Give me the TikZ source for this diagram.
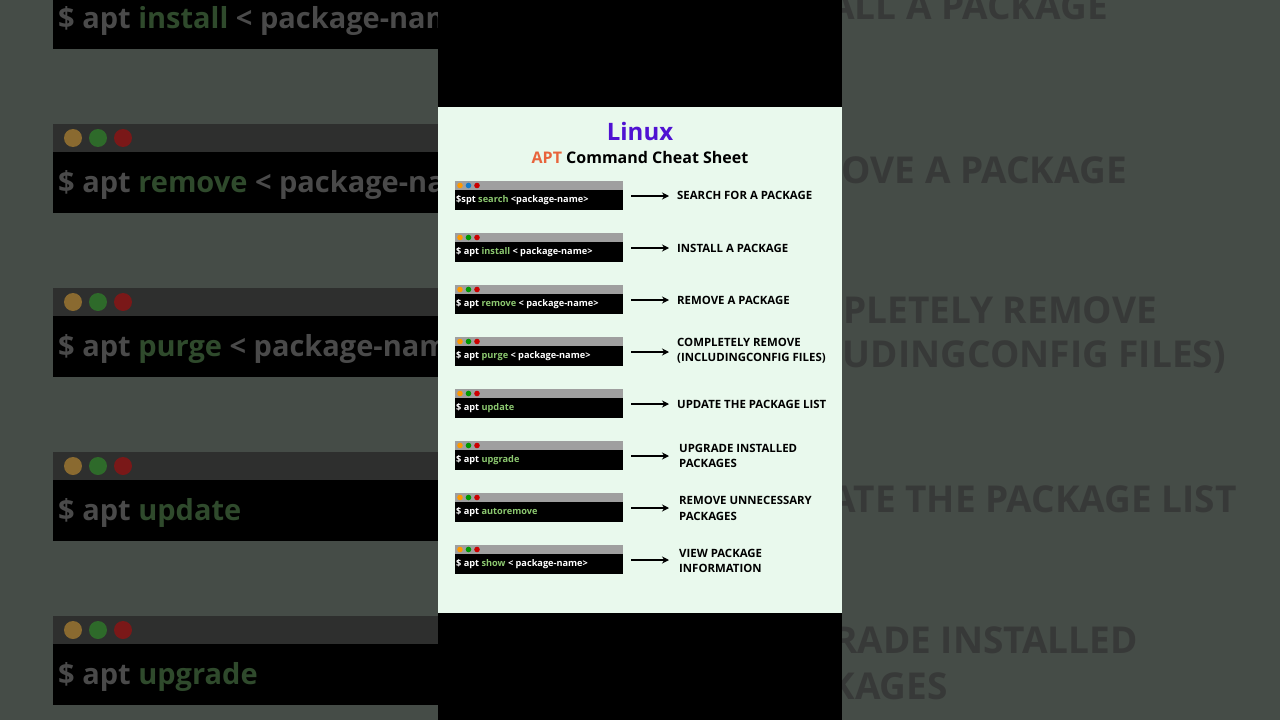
\documentclass[tikz,border=0pt]{standalone}
\usepackage{fontspec}
\setmainfont{Open Sans}
\usetikzlibrary{arrows.meta}
\definecolor{cardbg}{HTML}{E9F9ED}
\definecolor{sidebg}{HTML}{454C47}
\definecolor{cmdgreen}{HTML}{8CC870}
\definecolor{dimgreen}{HTML}{2F4A2C}
\definecolor{dimtxt}{HTML}{4A4A4A}
\definecolor{dimbar}{HTML}{2E2F2E}
\definecolor{purp}{HTML}{5012D2}
\definecolor{orng}{HTML}{E8643C}
\definecolor{dorange}{HTML}{8A6A30}
\definecolor{dgreen}{HTML}{2E6A2A}
\definecolor{dred}{HTML}{7A1818}
\tikzset{
  lbl/.style={anchor=west,align=left,font=\bfseries\fontsize{11.4}{15}\selectfont,inner sep=0pt},
  cmd/.style={anchor=west,font=\bfseries\fontsize{9.2}{10}\selectfont,text=white,inner sep=0pt},
  arr/.style={-{Stealth[length=7pt,width=7pt]},line width=2pt},
  bigcmd/.style={anchor=west,font=\bfseries\fontsize{29}{30}\selectfont,text=dimtxt,inner sep=0pt},
  biglbl/.style={anchor=east,font=\bfseries\fontsize{37}{38}\selectfont,text=black!80,inner sep=0pt,opacity=0.75}
}
\newcommand{\term}[3]{%
  \fill[gray!75] (455,#1) rectangle (623,#1+9);
  \fill[black] (455,#1+9) rectangle (623,#1+29);
  \fill[orange!80!yellow] (460,#1+4.5) circle (2.8);
  \fill[#2] (468.5,#1+4.5) circle (2.8);
  \fill[red!80!black] (477,#1+4.5) circle (2.8);
  \node[cmd] (c#1) at (456,#1+19.5) {#3};
}
\begin{document}
\begin{tikzpicture}[x=1pt,y=-1pt]
\useasboundingbox (0,0) rectangle (1280,720);
\fill[sidebg] (0,0) rectangle (1280,720);
% left blurred panel
\begin{scope}
\clip (0,0) rectangle (438,720);
\foreach \t/\w [count=\i from 0] in {install/ < package-name>,remove/ < package-name>,purge/ < package-name>,update/,upgrade/}{
  \pgfmathsetmacro{\yy}{-40+164*\i}
  \fill[dimbar] (53,\yy) rectangle (450,\yy+28);
  \fill[black] (53,\yy+28) rectangle (450,\yy+89);
  \fill[dorange] (73,\yy+14) circle (9);
  \fill[dgreen] (98,\yy+14) circle (9);
  \fill[dred] (123,\yy+14) circle (9);
  \node[bigcmd] at (58,\yy+61) {\$ apt \textcolor{dimgreen}{\t}\w};
}
\end{scope}
% right blurred panel
\begin{scope}
\clip (842,0) rectangle (1280,720);
\node[biglbl] at (1108,6) {INSTALL A PACKAGE};
\node[biglbl] at (1127,170) {REMOVE A PACKAGE};
\node[biglbl] at (1157,310) {COMPLETELY REMOVE};
\node[biglbl] at (1226,357) {(INCLUDINGCONFIG FILES)};
\node[biglbl] at (1237,499) {UPDATE THE PACKAGE LIST};
\node[biglbl] at (1138,640) {UPGRADE INSTALLED};
\node[biglbl] at (948,686) {PACKAGES};
\end{scope}
% card
\fill[black] (438,0) rectangle (842,720);
\fill[cardbg] (438,107) rectangle (842,613);
\node[font=\bfseries\fontsize{24}{26}\selectfont,text=purp] (title) at (640,131) {Linux};
\node[font=\bfseries\fontsize{16}{18}\selectfont] (sub) at (640,157) {\textcolor{orng}{APT} Command Cheat Sheet};
\term{181}{cyan!60!blue}{\$spt \textcolor{cmdgreen}{search} <package-name>}
\term{233}{green!60!black}{\$ apt \textcolor{cmdgreen}{install} < package-name>}
\term{285}{green!60!black}{\$ apt \textcolor{cmdgreen}{remove} < package-name>}
\term{337}{green!60!black}{\$ apt \textcolor{cmdgreen}{purge} < package-name>}
\term{389}{green!60!black}{\$ apt \textcolor{cmdgreen}{update}}
\term{441}{green!60!black}{\$ apt \textcolor{cmdgreen}{upgrade}}
\term{493}{green!60!black}{\$ apt \textcolor{cmdgreen}{autoremove}}
\term{545}{green!60!black}{\$ apt \textcolor{cmdgreen}{show} < package-name>}
\node[lbl] (l1) at (677,195) {SEARCH FOR A PACKAGE};
\node[lbl] (l2) at (677,248) {INSTALL A PACKAGE};
\node[lbl] (l3) at (677,300) {REMOVE A PACKAGE};
\node[lbl] (l4) at (677,351) {COMPLETELY REMOVE\\(INCLUDINGCONFIG FILES)};
\node[lbl] (l5) at (677,404) {UPDATE THE PACKAGE LIST};
\node[lbl] (l6) at (679,456) {UPGRADE INSTALLED\\PACKAGES};
\node[lbl] (l7) at (679,508) {REMOVE UNNECESSARY\\[1pt]PACKAGES};
\node[lbl] (l8) at (679,561) {VIEW PACKAGE\\INFORMATION};
\foreach \i/\y in {1/196,2/248,3/300,4/352,5/404,6/456,7/508,8/560}{
  \coordinate (s\i) at (631,\y);
  \coordinate (e\i) at (669,\y);
  \draw[arr] (s\i) -- (e\i);
}
\end{tikzpicture}
\end{document}
